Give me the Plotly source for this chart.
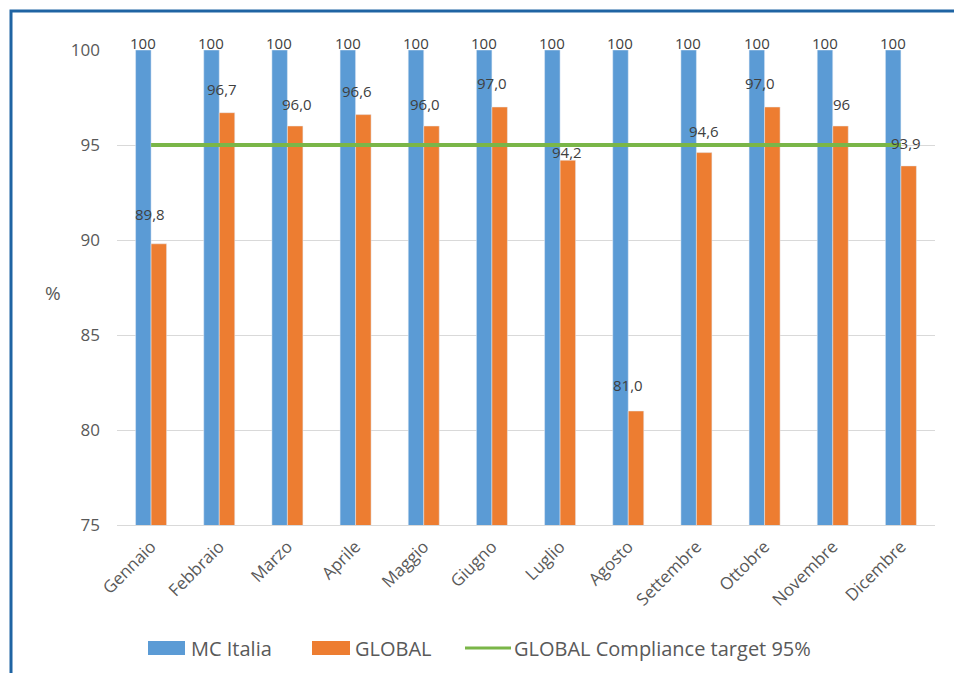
import plotly.graph_objects as go

months = ["Gennaio", "Febbraio", "Marzo", "Aprile", "Maggio", "Giugno",
          "Luglio", "Agosto", "Settembre", "Ottobre", "Novembre", "Dicembre"]
mc_italia = [100] * 12
global_vals = [89.8, 96.7, 96.0, 96.6, 96.0, 97.0, 94.2, 81.0, 94.6, 97.0, 96.0, 93.9]
global_text = ["89,8", "96,7", "96,0", "96,6", "96,0", "97,0", "94,2", "81,0", "94,6", "97,0", "96", "93,9"]
target = [95] * 12
yticks = [75, 80, 85, 90, 95, 100]

# label offsets (pixels) to mimic original placement
label_dx = [-1, 3, 10, 1, 1, 0, 7, 0, 8, -5, 9, 5]
label_dy = [18, 12, 10, 12, 10, 12, -4, 14, 10, 12, 10, 11]

BLUE = "#5b9bd5"
ORANGE = "#ed7d31"
GREEN = "#7ab648"
TXT = "#595959"
FONT = "Open Sans"

W, H = 954, 673
ML, MR, MT, MB = 117, 19, 50, 148
PW, PH = W - ML - MR, H - MT - MB


def px_x(x):
    return (x - ML) / PW


def px_y(y):
    return (H - MB - y) / PH


fig = go.Figure()
fig.add_trace(go.Bar(x=months, y=mc_italia, name="MC Italia", marker_color=BLUE,
                     showlegend=False))
fig.add_trace(go.Bar(x=months, y=global_vals, name="GLOBAL", marker_color=ORANGE,
                     showlegend=False))
fig.add_trace(go.Scatter(x=months, y=target, mode="lines", name="GLOBAL Compliance target 95%",
                         line=dict(color=GREEN, width=4), showlegend=False))

annotations = []
for m, v in zip(months, mc_italia):
    annotations.append(dict(x=m, y=v, text=str(v), showarrow=False, xshift=-8, yshift=7,
                            font=dict(family=FONT, size=15, color="#404040")))
for m, v, t, dx, dy in zip(months, global_vals, global_text, label_dx, label_dy):
    annotations.append(dict(x=m, y=v, text=t, showarrow=False, xshift=dx, yshift=dy,
                            yanchor="bottom", font=dict(family=FONT, size=15, color="#404040")))

# y axis title
annotations.append(dict(xref="paper", yref="paper", x=px_x(43), y=px_y(293), text="%",
                        showarrow=False, font=dict(family=FONT, size=19, color=TXT)))

# custom legend
shapes = []
leg_y = 648
legend_items = [
    ("bar", BLUE, 148, 185, "MC Italia", 189),
    ("bar", ORANGE, 312, 350, "GLOBAL", 353),
    ("line", GREEN, 465, 511, "GLOBAL Compliance target 95%", 512),
]
for kind, col, x0, x1, label, tx in legend_items:
    if kind == "bar":
        shapes.append(dict(type="rect", xref="paper", yref="paper", x0=px_x(x0), x1=px_x(x1),
                           y0=px_y(leg_y + 7), y1=px_y(leg_y - 7), fillcolor=col,
                           line=dict(width=0)))
    else:
        shapes.append(dict(type="line", xref="paper", yref="paper", x0=px_x(x0), x1=px_x(x1),
                           y0=px_y(leg_y), y1=px_y(leg_y), line=dict(color=col, width=3)))
    annotations.append(dict(xref="paper", yref="paper", x=px_x(tx), y=px_y(leg_y), text=label,
                            xanchor="left", yanchor="middle", showarrow=False,
                            font=dict(family=FONT, size=20, color=TXT)))

# outer frame
shapes.append(dict(type="rect", xref="paper", yref="paper", x0=px_x(11), x1=px_x(W + 5),
                   y0=px_y(H + 5), y1=px_y(11), line=dict(color="#1f64a3", width=3),
                   fillcolor="rgba(0,0,0,0)", layer="above"))

fig.update_layout(
    width=W, height=H,
    margin=dict(l=ML, r=MR, t=MT, b=MB),
    paper_bgcolor="white", plot_bgcolor="white",
    barmode="group", bargap=0.545, bargroupgap=0,
    showlegend=False,
    font=dict(family=FONT, color=TXT),
    annotations=annotations, shapes=shapes,
    xaxis=dict(tickangle=-45, tickfont=dict(size=17, color=TXT), showgrid=False,
               showline=True, linecolor="#d9d9d9", linewidth=1, ticks="",
               ticklabelstandoff=4),
    yaxis=dict(range=[75, 100], tickvals=yticks, tickfont=dict(size=17, color=TXT),
               showgrid=True, gridcolor="#d9d9d9", gridwidth=1, zeroline=False,
               ticks="", ticklen=0, showline=False, ticklabelstandoff=16),
)

fig.write_html("out.html")
